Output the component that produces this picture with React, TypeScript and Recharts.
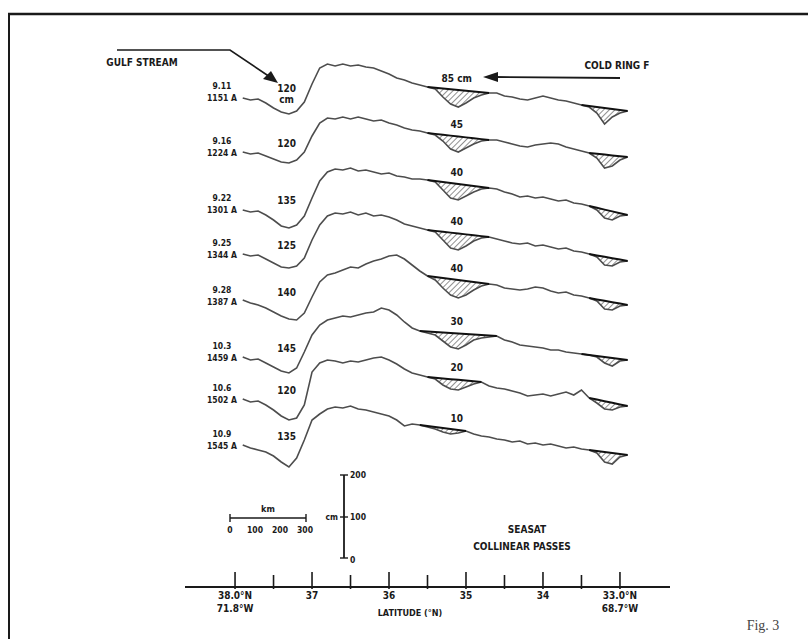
import React from 'react';
import { ComposedChart, Line, Area, XAxis, YAxis, ReferenceDot } from 'recharts';

// latitude grid (°N), north on the left
const LATS = [
  37.9, 37.8, 37.7, 37.6, 37.5, 37.4, 37.3, 37.2, 37.1, 37.0,
  36.9, 36.8, 36.7, 36.6, 36.5, 36.4, 36.3, 36.2, 36.1, 36.0,
  35.9, 35.8, 35.7, 35.6, 35.5, 35.4, 35.3, 35.2, 35.1, 35.0,
  34.9, 34.8, 34.7, 34.6, 34.5, 34.4, 34.3, 34.2, 34.1, 34.0,
  33.9, 33.8, 33.7, 33.6, 33.5, 33.4, 33.3, 33.2, 33.1, 33.0, 32.9,
];

const PASS_DATES = ['9.11', '9.16', '9.22', '9.25', '9.28', '10.3', '10.6', '10.9'];
const PASS_REVS = ['1151 A', '1224 A', '1301 A', '1344 A', '1387 A', '1459 A', '1502 A', '1545 A'];
const GULF_CM = ['120', '120', '135', '125', '140', '145', '120', '135'];
const RING_CM = ['85 cm', '45', '40', '40', '40', '30', '20', '10'];

// sea surface height along each pass (cm, relative to the pass start)
const P1 = [0, -5, -2.5, -12.5, -25, -35, -40, -32.5, -10, 35, 75, 85, 80, 85, 80, 82.5, 77.5, 75, 67.5, 60, 50, 45, 37.5, 32.5, 27.5, 22.5, 2.5, -15, -22.5, -12.5, 0, 7.5, 12.5, 12.5, 5, 2.5, -2.5, -5, 0, 5, 0, -5, -7.5, -12.5, -17.5, -22.5, -37.5, -65, -47.5, -37.5, -32.5];
const P2 = [2.5, -2.5, 0, -7.5, -15, -22.5, -25, -17.5, 2.5, 42.5, 75, 87.5, 85, 90, 85, 90, 85, 80, 82.5, 75, 70, 62.5, 57.5, 55, 50, 45, 30, 10, 2.5, 12.5, 22.5, 30, 32.5, 32.5, 27.5, 22.5, 17.5, 15, 20, 22.5, 25, 22.5, 15, 10, 5, 0, -12.5, -37.5, -32.5, -17.5, -10];
const P3 = [0, -5, -2.5, -12.5, -25, -40, -45, -37.5, -15, 30, 72.5, 95, 102.5, 100, 105, 97.5, 100, 95, 90, 92.5, 85, 82.5, 77.5, 77.5, 75, 70, 50, 30, 25, 35, 45, 52.5, 55, 52.5, 45, 40, 32.5, 35, 30, 32.5, 27.5, 22.5, 25, 17.5, 15, 10, 0, -20, -25, -15, -12.5];
const P4 = [2.5, -2.5, 0, -10, -20, -30, -32.5, -27.5, -7.5, 37.5, 75, 97.5, 105, 102.5, 107.5, 100, 105, 97.5, 100, 95, 87.5, 77.5, 72.5, 67.5, 62.5, 57.5, 37.5, 17.5, 12.5, 22.5, 35, 42.5, 45, 40, 35, 30, 27.5, 30, 22.5, 25, 20, 15, 17.5, 10, 7.5, 2.5, -5, -25, -27.5, -17.5, -15];
const P5 = [5, -2.5, -7.5, -15, -25, -35, -42.5, -45, -27.5, 12.5, 50, 67.5, 72.5, 80, 87.5, 85, 95, 102.5, 107.5, 115, 117.5, 107.5, 92.5, 77.5, 65, 55, 35, 17.5, 10, 17.5, 30, 40, 45, 42.5, 35, 32.5, 30, 32.5, 37.5, 35, 27.5, 22.5, 25, 17.5, 15, 10, 2.5, -17.5, -20, -10, -7.5];
const P6 = [2.5, -5, -2.5, -12.5, -22.5, -32.5, -37.5, -25, 15, 57.5, 82.5, 95, 100, 105, 102.5, 107.5, 112.5, 115, 125, 120, 107.5, 90, 75, 67.5, 62.5, 57.5, 42.5, 27.5, 22.5, 32.5, 45, 50, 52.5, 55, 45, 40, 32.5, 30, 27.5, 25, 20, 20, 15, 12.5, 10, 7.5, 2.5, -12.5, -20, -7.5, -5];
const P7 = [2.5, -5, -2.5, -12.5, -25, -40, -50, -45, -12.5, 70, 92.5, 100, 97.5, 92.5, 97.5, 95, 100, 105, 107.5, 100, 90, 77.5, 67.5, 62.5, 57.5, 52.5, 37.5, 27.5, 25, 32.5, 40, 45, 35, 30, 27.5, 22.5, 17.5, 10, 12.5, 15, 10, 15, 20, 12.5, 25, 5, -7.5, -22.5, -25, -17.5, -15];
const P8 = [2.5, -5, -10, -15, -25, -40, -52.5, -30, 15, 65, 80, 92.5, 97.5, 95, 100, 92.5, 90, 85, 80, 75, 65, 50, 55, 52.5, 47.5, 42.5, 35, 30, 32.5, 37.5, 30, 25, 22.5, 17.5, 15, 10, 12.5, 5, 7.5, 2.5, 5, 0, -5, -2.5, -7.5, -10, -17.5, -40, -45, -27.5, -22.5];
const PROFILES = [P1, P2, P3, P4, P5, P6, P7, P8];

// straight mean-level lines drawn over the depressions: [lat from, cm, lat to, cm]
const RING_SEGMENTS = [
  [35.5, 27.5, 34.7, 12.5], [35.5, 50, 34.7, 32.5], [35.5, 75, 34.7, 55], [35.5, 62.5, 34.7, 45],
  [35.5, 65, 34.7, 45], [35.6, 67.5, 34.6, 55], [35.5, 57.5, 34.8, 45], [35.6, 52.5, 35.0, 37.5],
];
const TAIL_SEGMENTS = [
  [33.5, -17.5, 32.9, -32.5], [33.4, 0, 32.9, -10], [33.4, 10, 32.9, -12.5], [33.4, 2.5, 32.9, -15],
  [33.4, 10, 32.9, -7.5], [33.5, 10, 32.9, -5], [33.4, 5, 32.9, -15], [33.4, -10, 32.9, -22.5],
];

// vertical stacking of the passes (cm above the latitude axis)
const ROW_BASE_CM = [1222.5, 1085, 942.5, 830, 712.5, 572.5, 467.5, 352.5];

const TICKS = [38, 37.5, 37, 36.5, 36, 35.5, 35, 34.5, 34, 33.5, 33];
const TICK_LABELS: Record<string, string[]> = {
  '38': ['38.0°N', '71.8°W'],
  '37': ['37'],
  '36': ['36'],
  '35': ['35'],
  '34': ['34'],
  '33': ['33.0°N', '68.7°W'],
};

const FONT = "'Liberation Sans Narrow', 'DejaVu Sans Condensed', 'Liberation Sans', sans-serif";
const INK = '#1a1a1a';

const segVal = (seg: number[], lat: number) => {
  const [a, ha, b, hb] = seg;
  if (lat > a + 1e-6 || lat < b - 1e-6) return null;
  return ha + ((hb - ha) * (a - lat)) / (a - b);
};

const data = LATS.map((lat, j) => {
  const row: Record<string, any> = { lat };
  PROFILES.forEach((p, i) => {
    const base = ROW_BASE_CM[i];
    const v = base + p[j];
    const r = segVal(RING_SEGMENTS[i], lat);
    const t = segVal(TAIL_SEGMENTS[i], lat);
    const ref = r ?? t;
    row[`p${i}`] = v;
    row[`r${i}`] = ref == null ? null : base + ref;
    row[`h${i}`] = ref == null ? null : [v, base + ref];
  });
  return row;
});

const LatTick = (props: any) => {
  const { x, y, payload } = props;
  const v = payload.value;
  const major = Math.abs(v - Math.round(v)) < 1e-6;
  const lines = major ? TICK_LABELS[String(Math.round(v))] || [] : [];
  return (
    <g>
      <line x1={x} x2={x} y1={y - (major ? 15 : 12)} y2={y + 2} stroke={INK} strokeWidth={1.6} />
      {lines.map((s, k) => (
        <text key={k} x={x} y={y + 12 + k * 13} textAnchor="middle" fontFamily={FONT} fontWeight="bold" fontSize={10} fill={INK}>
          {s}
        </text>
      ))}
    </g>
  );
};

const textLabel = (lines: string[], size: number, gap: number, dy: number) => (props: any) => {
  const vb = props.viewBox || {};
  const cx = vb.x + (vb.width || 0) / 2;
  const cy = vb.y + (vb.height || 0) / 2;
  return (
    <g>
      {lines.map((s, k) => (
        <text key={k} x={cx} y={cy + dy + k * gap} textAnchor="middle" dominantBaseline="central" fontFamily={FONT} fontWeight="bold" fontSize={size} fill={INK}>
          {s}
        </text>
      ))}
    </g>
  );
};

const txt = (x: number, y: number, s: string, size = 10, anchor: 'start' | 'middle' | 'end' = 'middle') => (
  <text x={x} y={y} textAnchor={anchor} dominantBaseline="central" fontFamily={FONT} fontWeight="bold" fontSize={size} fill={INK}>
    {s}
  </text>
);

const App: React.FC = () => {
  return (
    <div style={{ position: 'fixed', left: 0, top: 0, width: 808, height: 639, background: '#fff', overflow: 'hidden' }}>
      <ComposedChart width={808} height={639} data={data} margin={{ top: 20, right: 138, left: 185, bottom: 12 }}>
        <defs>
          <pattern id="hatch" patternUnits="userSpaceOnUse" width="4" height="4" patternTransform="rotate(45)">
            <line x1="0" y1="0" x2="0" y2="4" stroke="#333" strokeWidth="1.1" />
          </pattern>
        </defs>
        <XAxis
          dataKey="lat"
          type="number"
          domain={[32.35, 38.65]}
          reversed
          allowDataOverflow
          ticks={TICKS}
          interval={0}
          tick={<LatTick />}
          tickLine={false}
          tickSize={0}
          tickMargin={0}
          height={40}
          axisLine={{ stroke: INK, strokeWidth: 2.2 }}
        />
        <YAxis hide type="number" domain={[0, 1417.5]} allowDataOverflow />
        {PROFILES.map((_, i) => (
          <Area key={`h${i}`} dataKey={`h${i}`} type="linear" stroke="none" fill="url(#hatch)" fillOpacity={1} connectNulls={false} isAnimationActive={false} />
        ))}
        {PROFILES.map((_, i) => (
          <Line key={`p${i}`} dataKey={`p${i}`} type="linear" stroke="#4d4d4d" strokeWidth={1.6} dot={false} isAnimationActive={false} />
        ))}
        {PROFILES.map((_, i) => (
          <Line key={`r${i}`} dataKey={`r${i}`} type="linear" stroke="#111" strokeWidth={2} dot={false} connectNulls={false} isAnimationActive={false} />
        ))}
        {PROFILES.map((_, i) => (
          <ReferenceDot key={`d${i}`} x={38.17} y={ROW_BASE_CM[i]} r={1} fill="none" stroke="none" ifOverflow="visible"
            label={textLabel([PASS_DATES[i], PASS_REVS[i]], 8.5, 12, -12)} />
        ))}
        {PROFILES.map((_, i) => (
          <ReferenceDot key={`g${i}`} x={37.33} y={ROW_BASE_CM[i] + 24} r={1} fill="none" stroke="none" ifOverflow="visible"
            label={textLabel(i === 0 ? [GULF_CM[i], 'cm'] : [GULF_CM[i]], 10, 11, 0)} />
        ))}
        {PROFILES.map((_, i) => (
          <ReferenceDot key={`c${i}`} x={35.12} y={ROW_BASE_CM[i] + (segVal(RING_SEGMENTS[i], 35.1) ?? 0) + 30} r={1} fill="none" stroke="none" ifOverflow="visible"
            label={textLabel([RING_CM[i]], 10, 0, 0)} />
        ))}
      </ComposedChart>

      <svg width={808} height={639} style={{ position: 'absolute', left: 0, top: 0, pointerEvents: 'none' }}>
        {/* frame */}
        <line x1={8} y1={14} x2={808} y2={14} stroke={INK} strokeWidth={2.5} />
        <line x1={9} y1={14} x2={9} y2={639} stroke={INK} strokeWidth={2} />

        {/* Gulf Stream pointer */}
        {txt(142, 62, 'GULF STREAM', 10)}
        <polyline points="117,50 230,50 270,77" fill="none" stroke={INK} strokeWidth={1.6} />
        <polygon points="278,83 263,79 271,71" fill={INK} />

        {/* Cold ring pointer */}
        {txt(617, 65, 'COLD RING F', 10)}
        <line x1={495} y1={77} x2={620} y2={78} stroke={INK} strokeWidth={1.8} />
        <polygon points="483,77 498,72 498,82" fill={INK} />

        {/* km scale */}
        <line x1={230} y1={518} x2={306} y2={518} stroke={INK} strokeWidth={1.6} />
        <line x1={230} y1={514} x2={230} y2={522} stroke={INK} strokeWidth={1.4} />
        <line x1={306} y1={514} x2={306} y2={522} stroke={INK} strokeWidth={1.4} />
        {txt(268, 509, 'km', 9)}
        {txt(230, 530, '0', 8.5)}
        {txt(255, 530, '100', 8.5)}
        {txt(280, 530, '200', 8.5)}
        {txt(305, 530, '300', 8.5)}

        {/* cm scale */}
        <line x1={344} y1={475} x2={344} y2={558} stroke={INK} strokeWidth={1.8} />
        <line x1={340} y1={475} x2={348} y2={475} stroke={INK} strokeWidth={1.4} />
        <line x1={340} y1={517} x2={348} y2={517} stroke={INK} strokeWidth={1.4} />
        <line x1={340} y1={558} x2={348} y2={558} stroke={INK} strokeWidth={1.4} />
        {txt(350, 475, '200', 8.5, 'start')}
        {txt(350, 517, '100', 8.5, 'start')}
        {txt(338, 517, 'cm', 8.5, 'end')}
        {txt(350, 560, '0', 8.5, 'start')}

        {txt(527, 529, 'SEASAT', 10)}
        {txt(522, 546, 'COLLINEAR PASSES', 10)}
        {txt(410, 613, 'LATITUDE (°N)', 9)}

        <text x={763} y={630} textAnchor="middle" fontFamily="'Liberation Serif', serif" fontSize={14} fill="#444">
          Fig. 3
        </text>
      </svg>
    </div>
  );
};

export default App;
